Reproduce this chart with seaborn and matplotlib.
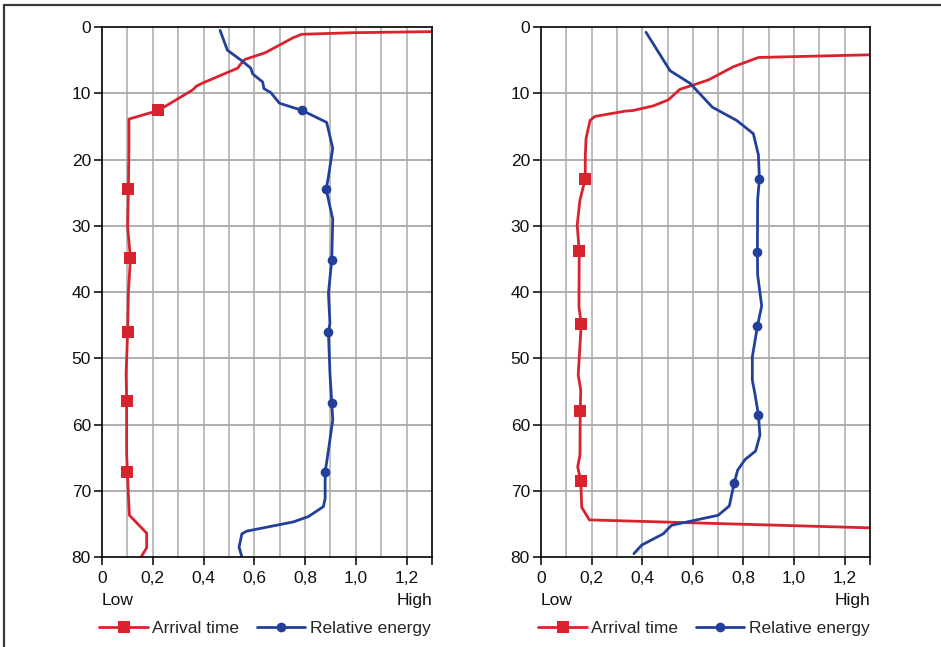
import numpy as np
import pandas as pd
import matplotlib
matplotlib.use("Agg")
import matplotlib.pyplot as plt
from matplotlib.lines import Line2D
import seaborn as sns

# ---------------------------------------------------------------------
# data (x = relative value, depth = y axis)
# ---------------------------------------------------------------------
left_arrival_x = [1.30, 0.99, 0.787, 0.754, 0.642, 0.563, 0.544, 0.535, 0.40, 0.373,
                  0.357, 0.222, 0.106, 0.106, 0.104, 0.101, 0.112, 0.104, 0.101, 0.095,
                  0.097, 0.097, 0.100, 0.104, 0.108, 0.176, 0.176, 0.154]
left_arrival_depth = [0.7, 0.86, 1.1, 1.6, 3.9, 4.9, 5.7, 6.2, 8.4, 8.9,
                      9.5, 12.6, 13.9, 18.6, 24.4, 30.1, 34.9, 40.0, 46.0, 52.3,
                      56.4, 64.4, 67.1, 70.7, 73.7, 76.4, 78.6, 80.0]
left_arrival_marks = [11, 14, 16, 18, 20, 22]

left_energy_x = [0.465, 0.494, 0.551, 0.586, 0.594, 0.633, 0.638, 0.665, 0.699, 0.789,
                 0.885, 0.909, 0.892, 0.883, 0.909, 0.905, 0.892, 0.898, 0.892, 0.898,
                 0.905, 0.909, 0.892, 0.879, 0.879, 0.872, 0.813, 0.754, 0.570, 0.551,
                 0.540, 0.551]
left_energy_depth = [0.5, 3.5, 5.1, 6.2, 7.1, 8.3, 9.3, 9.9, 11.5, 12.6,
                     14.4, 18.3, 22.6, 24.5, 29.0, 35.2, 40.2, 44.7, 46.1, 52.3,
                     56.7, 59.3, 63.9, 67.2, 71.2, 72.4, 73.9, 74.7, 76.1, 76.5,
                     78.5, 80.0]
left_energy_marks = [9, 13, 15, 18, 20, 23]

right_arrival_x = [1.30, 0.859, 0.760, 0.661, 0.602, 0.549, 0.503, 0.444, 0.365, 0.332,
                   0.213, 0.194, 0.178, 0.175, 0.175, 0.154, 0.143, 0.151, 0.150, 0.159,
                   0.147, 0.157, 0.155, 0.154, 0.145, 0.157, 0.161, 0.191, 1.30]
right_arrival_depth = [4.2, 4.6, 6.0, 8.0, 8.75, 9.4, 11.0, 11.9, 12.6, 12.7,
                       13.5, 14.1, 16.8, 19.6, 22.9, 26.1, 29.9, 33.8, 42.2, 44.9,
                       52.5, 54.8, 58.0, 64.6, 66.4, 68.5, 72.5, 74.4, 75.6]
right_arrival_marks = [14, 17, 19, 22, 25]

right_energy_x = [0.415, 0.510, 0.589, 0.677, 0.773, 0.839, 0.859, 0.863, 0.856, 0.855,
                  0.856, 0.872, 0.855, 0.835, 0.835, 0.845, 0.859, 0.865, 0.848, 0.806,
                  0.777, 0.763, 0.744, 0.700, 0.615, 0.516, 0.483, 0.398, 0.367]
right_energy_depth = [0.8, 6.6, 8.5, 12.1, 14.1, 16.1, 19.3, 22.9, 26.1, 33.9,
                      37.4, 42.1, 45.2, 49.8, 53.3, 55.3, 58.5, 61.6, 64.0, 65.3,
                      66.9, 68.9, 72.3, 73.7, 74.4, 75.2, 76.5, 78.2, 79.5]
right_energy_marks = [7, 9, 12, 16, 21]

x_ticks = [0, 0.2, 0.4, 0.6, 0.8, 1.0, 1.2]
x_tick_labels = ["0", "0,2", "0,4", "0,6", "0,8", "1,0", "1,2"]
y_ticks = [0, 10, 20, 30, 40, 50, 60, 70, 80]

RED = "#d8232e"
BLUE = "#22409a"
FS = 12.5

sns.set_style("white")
plt.rcParams['font.family'] = ['Liberation Sans', 'DejaVu Sans']
plt.rcParams['font.size'] = FS

fig = plt.figure(figsize=(9.41, 6.47), dpi=100)
ax_l = fig.add_axes([102 / 941, 90 / 647, 330 / 941, 530 / 647])
ax_r = fig.add_axes([541 / 941, 90 / 647, 329 / 941, 530 / 647])

panels = [
    (ax_l, left_arrival_x, left_arrival_depth, left_arrival_marks,
     left_energy_x, left_energy_depth, left_energy_marks),
    (ax_r, right_arrival_x, right_arrival_depth, right_arrival_marks,
     right_energy_x, right_energy_depth, right_energy_marks),
]

for ax, ax_x, ax_d, ax_m, en_x, en_d, en_m in panels:
    arr = pd.DataFrame({'value': ax_x, 'depth': ax_d})
    ene = pd.DataFrame({'value': en_x, 'depth': en_d})

    sns.lineplot(data=arr, x='value', y='depth', ax=ax, sort=False, estimator=None,
                 color=RED, lw=2.0, marker='s', markersize=8.5, markevery=ax_m,
                 markeredgewidth=0, label='Arrival time', zorder=4)
    sns.lineplot(data=ene, x='value', y='depth', ax=ax, sort=False, estimator=None,
                 color=BLUE, lw=2.0, marker='o', markersize=7, markevery=en_m,
                 markeredgewidth=0, label='Relative energy', zorder=4)

    ax.set_xlim(0, 1.3)
    ax.set_ylim(80, 0)
    ax.set_xticks(x_ticks)
    ax.set_xticklabels(x_tick_labels)
    ax.set_xticks([1.3], minor=True)
    ax.set_yticks(y_ticks)
    ax.set_xlabel('')
    ax.set_ylabel('')

    # grid: every 0.1 vertically, every 10 horizontally
    for gx in np.arange(0.1, 1.3, 0.1):
        ax.axvline(gx, color='#b8b8b8', lw=1.3, zorder=1)
    for gy in y_ticks[1:-1]:
        ax.axhline(gy, color='#a8a8a8', lw=1.3, zorder=1)

    for s in ax.spines.values():
        s.set_color('black')
        s.set_linewidth(1.2)
        s.set_zorder(5)
    ax.tick_params(axis='both', which='both', direction='out', length=6, width=1.1,
                   color='black', labelsize=FS, labelcolor='#111111', pad=2,
                   bottom=True, left=True)
    ax.tick_params(axis='x', pad=4)

    ax.text(0, -0.083, 'Low', transform=ax.transAxes, ha='left', va='center',
            fontsize=FS, color='#111111')
    ax.text(1, -0.083, 'High', transform=ax.transAxes, ha='right', va='center',
            fontsize=FS, color='#111111')

    ax.legend(loc='center left', bbox_to_anchor=(-0.008, -0.134), ncol=2,
              frameon=False, borderaxespad=0, borderpad=0, handlelength=2.8,
              handletextpad=0.25, columnspacing=1.0, fontsize=FS)

# thin frame round the figure (top and left only)
fig.add_artist(Line2D([4 / 941, 1], [1 - 5 / 647, 1 - 5 / 647], transform=fig.transFigure,
                      color='#3a3a3a', lw=1.6))
fig.add_artist(Line2D([4 / 941, 4 / 941], [0, 1 - 5 / 647], transform=fig.transFigure,
                      color='#3a3a3a', lw=1.6))

plt.savefig('out.png', dpi=100)
plt.close()
